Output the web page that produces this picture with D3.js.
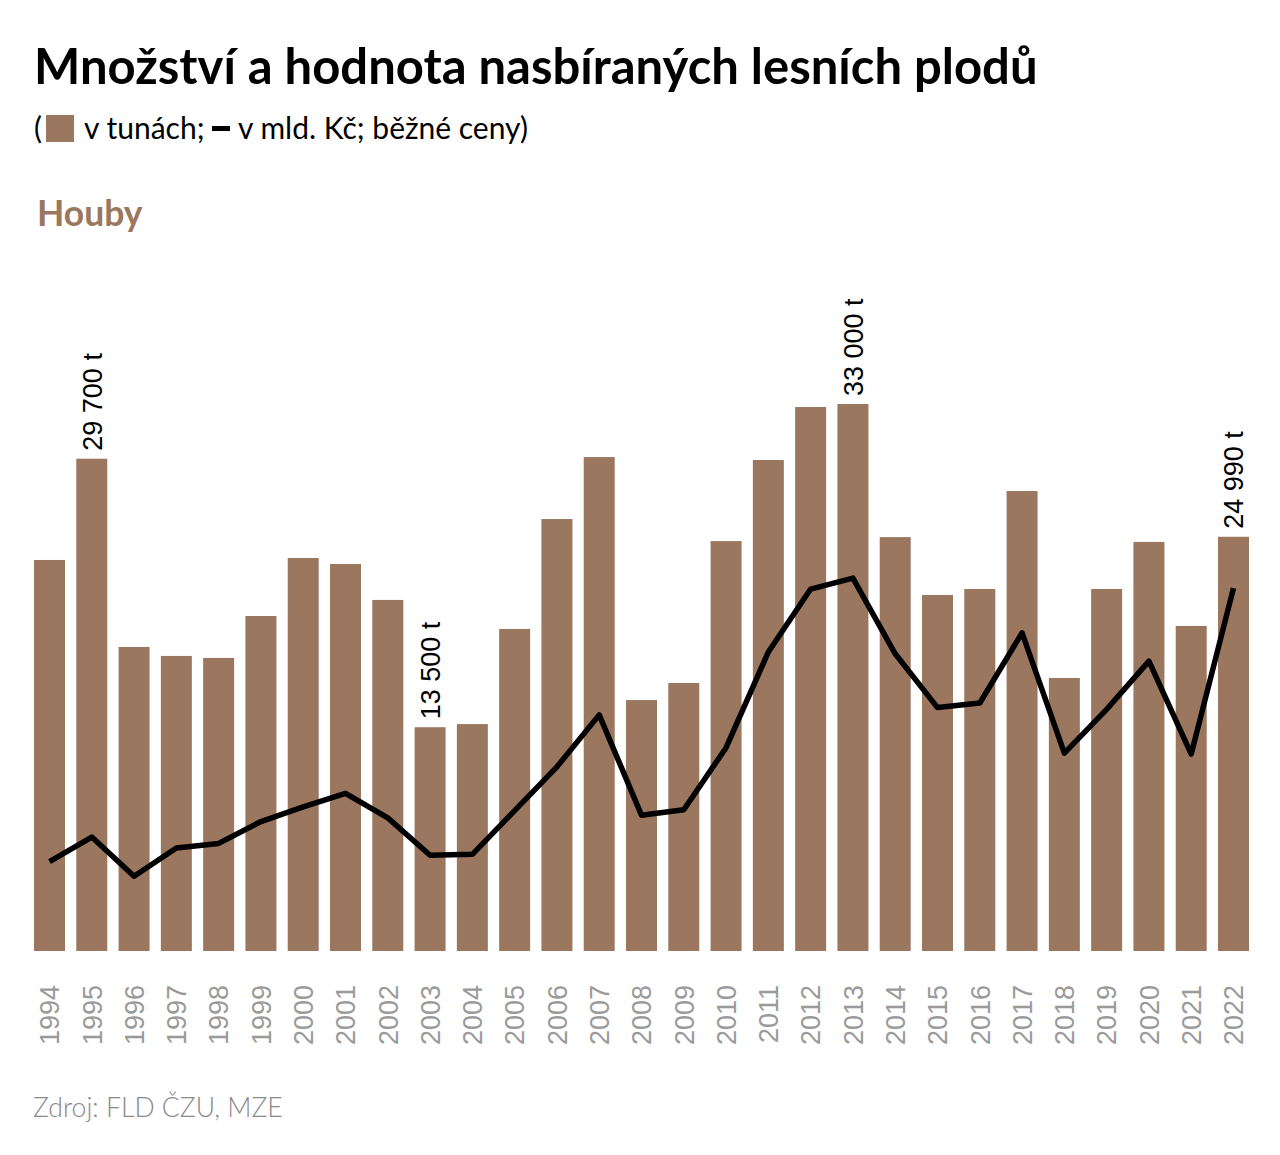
<!DOCTYPE html>
<html lang="cs">
<head>
<meta charset="utf-8">
<script src="https://cdn.jsdelivr.net/npm/d3@7"></script>
<style>
  body { margin: 0; background: #fff; }
  svg { display: block; }
</style>
</head>
<body>
<div id="chart"></div>
<script>
// Data
var years = ["1994", "1995", "1996", "1997", "1998", "1999", "2000", "2001", "2002", "2003",
  "2004", "2005", "2006", "2007", "2008", "2009", "2010", "2011", "2012", "2013",
  "2014", "2015", "2016", "2017", "2018", "2019", "2020", "2021", "2022"];

// mnozstvi v tunach
var tonnes = [23590, 29700, 18340, 17800, 17680, 20210, 23710, 23350, 21180, 13500,
  13690, 19430, 26060, 29800, 15140, 16170, 24730, 29620, 32820, 33000,
  24970, 21480, 21840, 27750, 16470, 21840, 24680, 19610, 24990];

// hodnota v mld. Kc (bezne ceny)
var value = [0.98, 1.25, 0.82, 1.13, 1.18, 1.42, 1.58, 1.73, 1.46, 1.05,
  1.06, 1.54, 2.02, 2.59, 1.49, 1.55, 2.23, 3.28, 3.97, 4.09,
  3.26, 2.67, 2.72, 3.49, 2.17, 2.65, 3.18, 2.16, 3.98];

var labelYears = ["1995", "2003", "2013", "2022"];
var labelTexts = ["29 700 t", "13 500 t", "33 000 t", "24 990 t"];

var brown = "#9b775f";

var svgWidth = 1280;
var svgHeight = 1155;

var svg = d3.select("#chart")
  .append("svg")
  .attr("width", svgWidth)
  .attr("height", svgHeight);

// Titles
svg.append("text")
  .attr("x", 34)
  .attr("y", 84)
  .style("font-family", "Lato")
  .style("font-weight", 700)
  .style("font-size", "49px")
  .attr("fill", "#000")
  .text("Množství a hodnota nasbíraných lesních plodů");

// Legend line under the title
var sub = svg.append("g").attr("transform", "translate(34, 139)");
sub.append("text")
  .attr("x", 0)
  .attr("y", 0)
  .style("font-family", "Lato")
  .style("font-size", "30px")
  .attr("fill", "#000")
  .text("(");
sub.append("rect")
  .attr("x", 12)
  .attr("y", -24)
  .attr("width", 28)
  .attr("height", 27)
  .attr("fill", brown);
sub.append("text")
  .attr("x", 50)
  .attr("y", 0)
  .style("font-family", "Lato")
  .style("font-size", "30px")
  .attr("fill", "#000")
  .text("v tunách;");
sub.append("rect")
  .attr("x", 178)
  .attr("y", -13)
  .attr("width", 18)
  .attr("height", 5)
  .attr("fill", "#000");
sub.append("text")
  .attr("x", 204)
  .attr("y", 0)
  .style("font-family", "Lato")
  .style("font-size", "30px")
  .attr("fill", "#000")
  .text("v mld. Kč; běžné ceny)");

svg.append("text")
  .attr("x", 37)
  .attr("y", 226)
  .style("font-family", "Lato")
  .style("font-weight", 700)
  .style("font-size", "35.5px")
  .attr("fill", brown)
  .text("Houby");

// Scales
var x = d3.scaleBand()
  .domain(years)
  .range([34, 1249])
  .paddingInner(0.267)
  .paddingOuter(0);

var y = d3.scaleLinear()
  .domain([0, 33000])
  .range([951, 404]);

var y2 = d3.scaleLinear()
  .domain([0, 6])
  .range([951, 404]);

// Bars
svg.append("g")
  .selectAll("rect")
  .data(years)
  .enter()
  .append("rect")
  .attr("x", d => x(d))
  .attr("y", (d, i) => y(tonnes[i]))
  .attr("width", x.bandwidth())
  .attr("height", (d, i) => y(0) - y(tonnes[i]))
  .attr("fill", brown);

// Line
var line = d3.line()
  .x((d, i) => x(years[i]) + x.bandwidth() / 2)
  .y(d => y2(d));

svg.append("path")
  .datum(value)
  .attr("d", line)
  .attr("fill", "none")
  .attr("stroke", "#000")
  .attr("stroke-width", 5.5)
  .attr("stroke-linejoin", "round");

// Year axis
var xAxis = d3.axisBottom(x).tickSize(0).tickPadding(0);
var axisG = svg.append("g")
  .attr("transform", "translate(0, 951)")
  .call(xAxis);
axisG.select(".domain").remove();
axisG.selectAll("text")
  .attr("transform", "rotate(-90)")
  .attr("x", -34)
  .attr("y", 0)
  .attr("dy", "0.36em")
  .style("text-anchor", "end")
  .style("font-family", "Liberation Sans")
  .style("font-size", "27px")
  .attr("fill", "#9a9a9a");

// Value labels
svg.append("g")
  .selectAll("text")
  .data(labelYears)
  .enter()
  .append("text")
  .attr("transform", (d, i) => {
    var cx = x(d) + x.bandwidth() / 2;
    var top = y(tonnes[years.indexOf(d)]) - 8;
    return `translate(${cx}, ${top}) rotate(-90)`;
  })
  .attr("dy", "0.36em")
  .style("font-family", "Liberation Sans")
  .style("font-size", "27px")
  .attr("fill", "#000")
  .text((d, i) => labelTexts[i]);

// Source
svg.append("text")
  .attr("x", 33)
  .attr("y", 1117)
  .style("font-family", "Lato")
  .style("font-weight", 300)
  .style("font-size", "26.6px")
  .attr("fill", "#8a8a8a")
  .text("Zdroj: FLD ČZU, MZE");
</script>
</body>
</html>
